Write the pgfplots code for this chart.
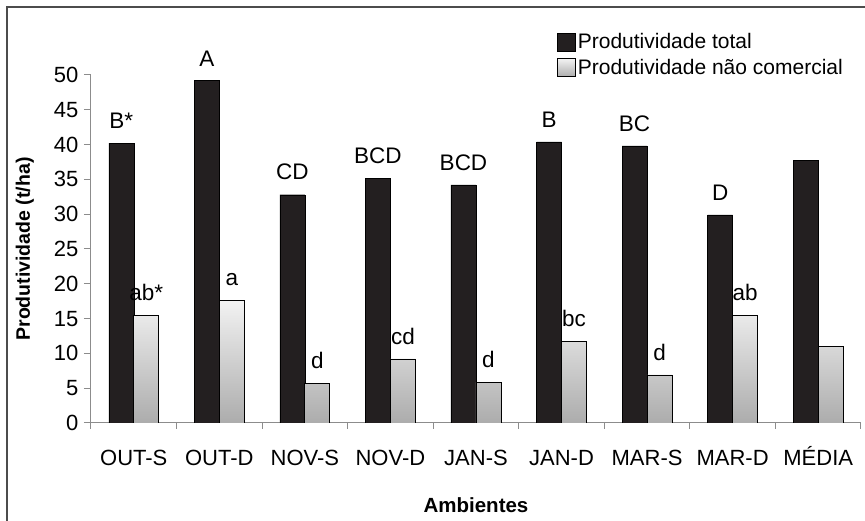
\documentclass[border=0pt]{standalone}
\usepackage{fontspec}
\setmainfont{Liberation Sans}
\usepackage{pgfplots}
\pgfplotsset{compat=1.18}
\usepackage{pgfplotstable}
\definecolor{barblack}{RGB}{35,31,32}
\definecolor{axgray}{RGB}{140,140,140}
\pgfplotstableread{
x total ltot nc lnc
0 40.2 B* 15.4 ab*
1 49.2 A 17.6 a
2 32.8 CD 5.7 d
3 35.1 BCD 9.2 cd
4 34.2 BCD 5.85 d
5 40.4 B 11.7 bc
6 39.8 BC 6.9 d
7 29.9 D 15.4 ab
8 37.7 {} 11.0 {}
}\datatable
\newcommand{\bigf}{\fontsize{22}{26}\selectfont}
\begin{document}
\begin{tikzpicture}[x=1pt,y=1pt,font=\bigf]
\useasboundingbox (0,0) rectangle (865,521);
\draw[line width=2pt, black!70] (7,-5) -- (7,514) -- (870,514);
\begin{axis}[
  at={(91pt,98pt)}, anchor=south west,
  scale only axis, width=770pt, height=348pt,
  ymin=0, ymax=50, xmin=-0.5, xmax=8.5,
  ytick={0,5,...,50},
  xtick={0,...,8},
  xticklabels={OUT-S,OUT-D,NOV-S,NOV-D,JAN-S,JAN-D,MAR-S,MAR-D,MÉDIA},
  minor xtick={-0.5,0.5,...,8.5},
  major x tick style={draw=none},
  axis x line*=bottom, axis y line*=left,
  axis line style={axgray, line width=1pt},
  tick style={axgray, line width=1pt},
  tick align=outside,
  major tick length=7pt, minor tick length=6pt,
  /pgf/number format/assume math mode=true,
  tick label style={font=\bigf, black},
  xticklabel style={yshift=-16pt, text height=16pt, text depth=0pt},
  yticklabel style={xshift=-2pt},
  ybar, bar width=25pt, ybar=0pt,
  xlabel={Ambientes}, ylabel={Produtividade (t/ha)},
  xlabel style={font=\fontsize{20.5}{24}\selectfont\bfseries, at={(axis description cs:0.5,-0.235)}, anchor=center},
  ylabel style={font=\fontsize{19.5}{24}\selectfont\bfseries, at={(axis description cs:-0.086,0.5)}, anchor=center, rotate=0},
  legend style={draw=none, fill=none, at={(rel axis cs:0.605,1.125)}, anchor=north west, font=\fontsize{21}{25}\selectfont, row sep=5pt, inner sep=0pt},
  legend cell align=left,
  legend image code/.code={\draw[#1] (0pt,-9pt) rectangle (18pt,9pt);},
  nodes near coords, point meta=explicit symbolic,
  every node near coord/.append style={font=\fontsize{22.5}{26}\selectfont, black, yshift=11pt},
]
\addplot[draw=black, fill=barblack] table[x=x, y=total, meta=ltot] {\datatable};
\addlegendentry{Produtividade total}
\addplot[draw=black, line width=0.8pt, top color=gray!10, bottom color=gray!65] table[x=x, y=nc, meta=lnc] {\datatable};
\addlegendentry{Produtividade não comercial}
\end{axis}
\end{tikzpicture}
\end{document}
